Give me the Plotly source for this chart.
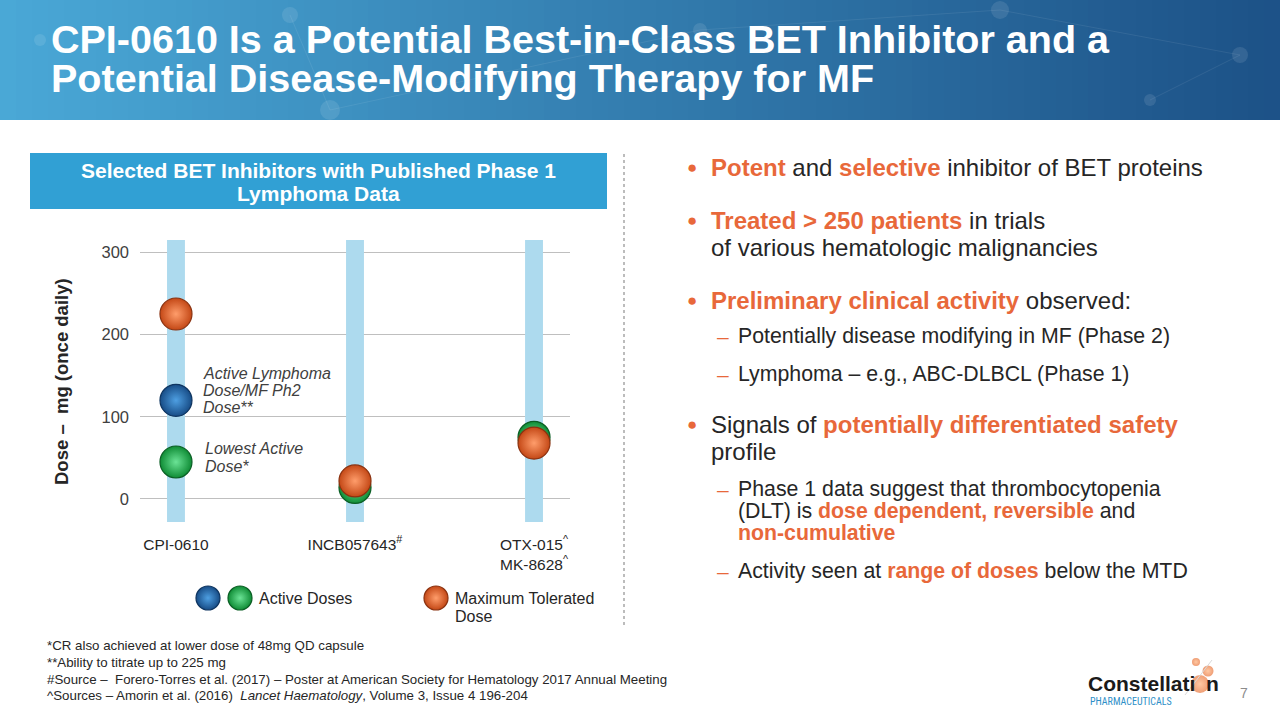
import plotly.graph_objects as go

W, H = 1280, 720
FONT = "Liberation Sans"
ORANGE = "#E8683A"
DARK = "#262626"

# ---------------- data ----------------
categories = ["CPI-0610", "INCB057643<sup>#</sup>", "OTX-015<sup>^</sup><br>MK-8628<sup>^</sup>"]
cat_pos = [0, 1, 2]
lowest_active_dose = [45, 14, 75]          # green
active_lymphoma_dose = [120, None, None]   # blue (CPI-0610 only)
max_tolerated_dose = [225, 22, 68]         # orange
band_low, band_high = -28, 315
y_ticks = [0, 100, 200, 300]


def px(x):
    return x / W


def py(y):
    return 1 - y / H


fig = go.Figure()

# background bands
fig.add_trace(go.Bar(x=cat_pos, y=[band_high - band_low] * 3, base=[band_low] * 3,
                     width=0.1, marker=dict(color="#ADDAEE", line=dict(width=0)),
                     hoverinfo="skip", showlegend=False))


def sphere(name, ys, col, center, edge, size=32, xa="x", ya="y", xs=None):
    fig.add_trace(go.Scatter(
        x=xs if xs is not None else cat_pos, y=ys, mode="markers", name=name,
        xaxis=xa, yaxis=ya, showlegend=False,
        marker=dict(size=size, color=col, gradient=dict(type="radial", color=center),
                    line=dict(color=edge, width=1.2))))


sphere("Lowest active dose", lowest_active_dose, "#0F8C35", "#6BE396", "#0A5E24")
sphere("Active lymphoma dose", active_lymphoma_dose, "#174C86", "#4E9FE2", "#0F3560")
sphere("Maximum tolerated dose", max_tolerated_dose, "#C44816", "#FF9D6B", "#8A3210")

# legend swatches on an overlay pixel axis
sphere("leg_blue", [598], "#174C86", "#4E9FE2", "#0F3560", size=24, xa="x2", ya="y2", xs=[208])
sphere("leg_green", [598], "#0F8C35", "#6BE396", "#0A5E24", size=24, xa="x2", ya="y2", xs=[240])
sphere("leg_orange", [598], "#C44816", "#FF9D6B", "#8A3210", size=24, xa="x2", ya="y2", xs=[436])
# logo dots
fig.add_trace(go.Scatter(x=[1196, 1208, 1200], y=[662, 671, 684], xaxis="x2", yaxis="y2",
                         mode="markers", showlegend=False,
                         marker=dict(size=[8, 11, 18], color="#E8743A",
                                     gradient=dict(type="radial", color="#FFB07A"),
                                     line=dict(width=0))))

shapes = []
# title gradient bar
c0 = (74, 168, 214)
c1 = (29, 82, 136)
N = 80
for i in range(N):
    t = i / (N - 1)
    c = tuple(int(c0[k] + (c1[k] - c0[k]) * t) for k in range(3))
    shapes.append(dict(type="rect", xref="paper", yref="paper",
                       x0=px(i * W / N), x1=px((i + 1) * W / N + 1), y0=py(120), y1=1,
                       fillcolor="rgb(%d,%d,%d)" % c, line=dict(width=0), layer="below"))
# faint network decoration
for (cx, cy, r) in [(290, 15, 8), (330, 110, 10), (700, 30, 7), (1000, 10, 9), (1240, 55, 8), (40, 40, 6), (1150, 100, 6)]:
    shapes.append(dict(type="circle", xref="paper", yref="paper",
                       x0=px(cx - r), x1=px(cx + r), y0=py(cy + r), y1=py(cy - r),
                       fillcolor="rgba(255,255,255,0.10)", line=dict(width=0), layer="below"))
for (xa_, ya_, xb, yb) in [(290, 15, 330, 110), (700, 30, 1000, 10), (1000, 10, 1240, 55), (1150, 100, 1240, 55), (330, 110, 700, 30)]:
    shapes.append(dict(type="line", xref="paper", yref="paper", x0=px(xa_), y0=py(ya_),
                       x1=px(xb), y1=py(yb), line=dict(color="rgba(255,255,255,0.08)", width=1),
                       layer="below"))
# heading box
shapes.append(dict(type="rect", xref="paper", yref="paper", x0=px(30), x1=px(607),
                   y0=py(209), y1=py(153), fillcolor="#31A0D4", line=dict(width=0)))
# dotted divider
shapes.append(dict(type="line", xref="paper", yref="paper", x0=px(624), x1=px(624),
                   y0=py(625), y1=py(153), line=dict(color="#A6A6A6", width=1.5, dash="dot")))
# logo swoosh line
shapes.append(dict(type="line", xref="paper", yref="paper", x0=px(1185), x1=px(1212),
                   y0=py(695), y1=py(660), line=dict(color="#D9D9D9", width=1)))

ann = []


def T(x, y, text, size, color=DARK, xanchor="left", bold=False, italic=False, family=FONT, **kw):
    if bold:
        text = "<b>" + text + "</b>"
    if italic:
        text = "<i>" + text + "</i>"
    ann.append(dict(x=px(x), y=py(y), xref="paper", yref="paper", text=text, showarrow=False,
                    xanchor=xanchor, yanchor="middle", align="left",
                    font=dict(family=family, size=size, color=color), **kw))


def O(s):
    return "<b><span style='color:%s'>%s</span></b>" % (ORANGE, s)


# title
T(49, 39, "CPI-0610 Is a Potential Best-in-Class BET Inhibitor and a", 39.5, "white", bold=True)
T(49, 78, "Potential Disease-Modifying Therapy for MF", 39.5, "white", bold=True)

# heading box
T(318, 170, "Selected BET Inhibitors with Published Phase 1", 21, "white", "center", bold=True)
T(318, 194, "Lymphoma Data", 21, "white", "center", bold=True)

# y axis title
ann.append(dict(x=px(61), y=py(382), xref="paper", yref="paper", text="<b>Dose –  mg (once daily)</b>",
                showarrow=False, textangle=-90, xanchor="center", yanchor="middle",
                font=dict(family=FONT, size=18.5, color=DARK)))

# chart labels
T(201, 373, "Active Lymphoma", 16, "#404040", italic=True)
T(201, 390, "Dose/MF Ph2", 16, "#404040", italic=True)
T(201, 407, "Dose**", 16, "#404040", italic=True)
T(203, 448, "Lowest Active", 16, "#404040", italic=True)
T(203, 466, "Dose*", 16, "#404040", italic=True)

# legend texts
T(257, 598, "Active Doses", 16, "#262626")
T(453, 598, "Maximum Tolerated", 16, "#262626")
T(453, 616, "Dose", 16, "#262626")

# right bullets
BX, TX = 692, 709
SX, STX = 723, 736


def bullet(y):
    T(BX, y, "●", 17, ORANGE, "center")


def dash(y):
    T(SX, y, "–", 21, ORANGE, "center")


MS = 24
SS = 21.3
bullet(167)
T(TX, 167, O("Potent") + " and " + O("selective") + " inhibitor of BET proteins", MS)
bullet(220)
T(TX, 220, O("Treated > 250 patients") + " in trials", MS)
T(TX, 247, "of various hematologic malignancies", MS)
bullet(300)
T(TX, 300, O("Preliminary clinical activity") + " observed:", MS)
dash(336)
T(STX, 336, "Potentially disease modifying in MF (Phase 2)", SS)
dash(374)
T(STX, 374, "Lymphoma – e.g., ABC-DLBCL (Phase 1)", SS)
bullet(424)
T(TX, 424, "Signals of " + O("potentially differentiated safety"), MS)
T(TX, 451, "profile", MS)
dash(489)
T(STX, 489, "Phase 1 data suggest that thrombocytopenia", SS)
T(STX, 511, "(DLT) is " + O("dose dependent, reversible") + " and", SS)
T(STX, 533, O("non-cumulative"), SS)
dash(571)
T(STX, 571, "Activity seen at " + O("range of doses") + " below the MTD", SS)

# footnotes
FS = 13.3
T(45, 645, "*CR also achieved at lower dose of 48mg QD capsule", FS)
T(45, 662, "**Ability to titrate up to 225 mg", FS)
T(45, 679, "#Source –  Forero-Torres et al. (2017) – Poster at American Society for Hematology 2017 Annual Meeting", FS)
T(45, 695, "^Sources – Amorin et al. (2016)  <i>Lancet Haematology</i>, Volume 3, Issue 4 196-204", FS)

# logo
T(1086, 683, "<b>Constellati</b>", 21, "#1A1A1A")
T(1204, 683, "<b>n</b>", 21, "#1A1A1A")
T(1088, 701, "PHARMACEUTICALS", 10, "#2E8FC8", family="Roboto Condensed, Liberation Sans Narrow, " + FONT)
T(1244, 693, "7", 14, "#8C8C8C", "center")

fig.update_layout(
    width=W, height=H, margin=dict(l=0, r=0, t=0, b=0),
    paper_bgcolor="white", plot_bgcolor="rgba(0,0,0,0)",
    showlegend=False, shapes=shapes, annotations=ann,
    font=dict(family=FONT, color=DARK),
    xaxis=dict(domain=[px(140), px(570)], range=[-0.201, 2.201], tickvals=cat_pos,
               ticktext=categories, showgrid=False, zeroline=False, showline=False,
               ticks="", ticklabelstandoff=11, tickfont=dict(size=15.5, color="#262626"),
               fixedrange=True),
    yaxis=dict(domain=[py(522), py(240)], range=[band_low, band_high], tickvals=y_ticks,
               showgrid=True, gridcolor="#BFBFBF", gridwidth=1, zeroline=False, showline=False,
               ticks="", ticklabelstandoff=10, tickfont=dict(size=16.5, color="#404040")),
    xaxis2=dict(domain=[0, 1], range=[0, W], anchor="y2", visible=False),
    yaxis2=dict(domain=[0, 1], range=[H, 0], anchor="x2", visible=False),
)

fig.write_html("out.html", config={"displayModeBar": False},
               post_script="document.body.style.margin='0';")
